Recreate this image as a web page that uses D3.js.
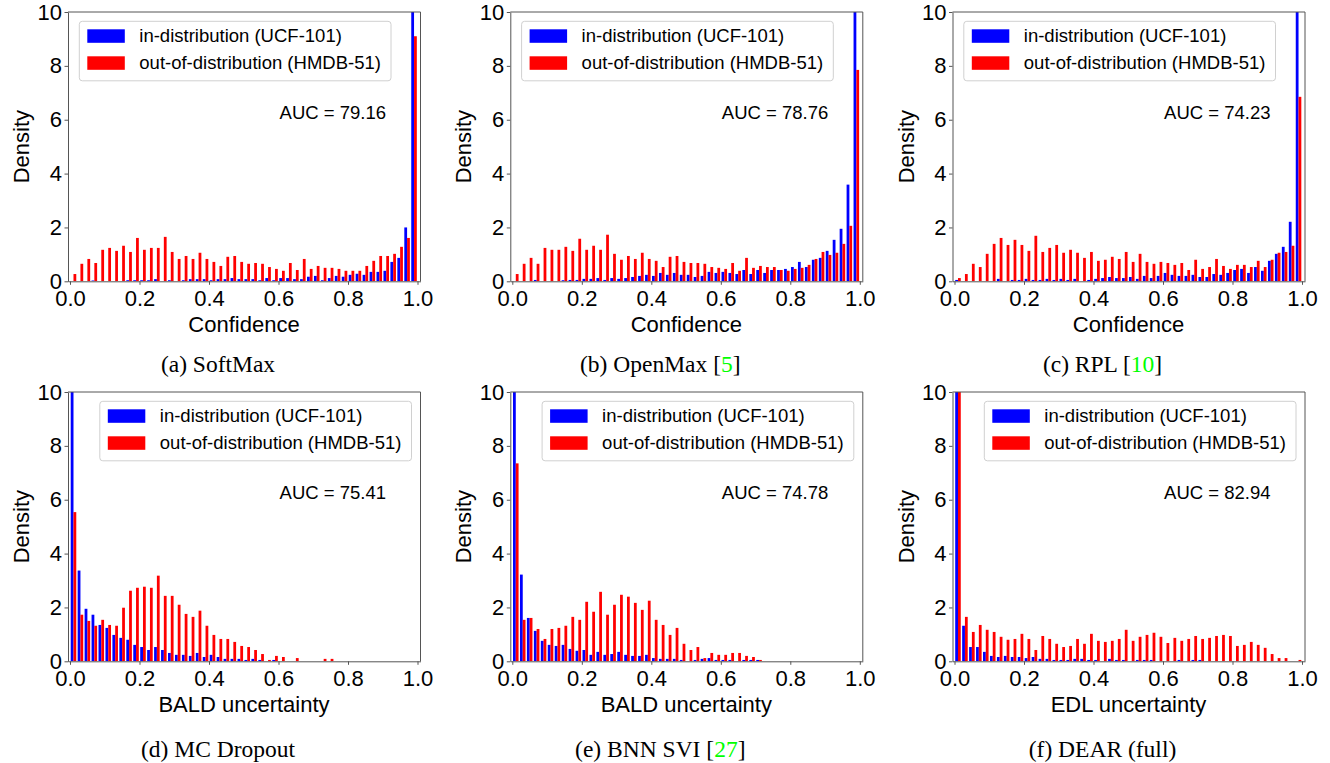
<!DOCTYPE html>
<html>
<head>
<meta charset="utf-8">
<script src="https://cdn.jsdelivr.net/npm/d3@7"></script>
<style>
  body { margin: 0; background: #fff; }
  svg { display: block; }
</style>
</head>
<body>
<div id="container"></div>
<script>
/* DATA: densities per bin (50 bins of width 0.02 over [0,1]) */
const nBins = 50, binWidth = 0.02;
const yTicks = [0, 2, 4, 6, 8, 10];
const xTicks = [0, 0.2, 0.4, 0.6, 0.8, 1.0];
const legendLabels = ["in-distribution (UCF-101)", "out-of-distribution (HMDB-51)"];

const softmaxIn = [0,0,0,0.03,0,0,0,0,0.04,0.04, 0.04,0.04,0.08,0,0.04,0,0.04,0.08,0.08,0.08,
  0.04,0.08,0.08,0.12,0.08,0.08,0.08,0.04,0.12,0.04, 0.12,0.12,0.08,0.08,0.17,0.2,0.04,0.12,0.2,0.17,
  0.24,0.28,0.24,0.35,0.35,0.39,0.72,0.87,2.0,41];
const softmaxOut = [0.27,0.65,0.83,0.68,1.17,1.24,1.13,1.32,1.09,1.61, 1.17,1.24,1.24,1.65,1.09,0.83,0.94,0.83,1.06,0.83,
  0.72,0.57,0.91,0.94,0.72,0.65,0.68,0.65,0.53,0.46, 0.39,0.68,0.42,0.83,0.46,0.57,0.50,0.50,0.46,0.39,
  0.39,0.39,0.57,0.76,0.94,0.94,1.02,1.28,1.61,9.1];

const openmaxIn = [0,0,0,0.05,0,0,0,0.04,0.05,0.05, 0.09,0.09,0.12,0.05,0.12,0.09,0.12,0.16,0.2,0.24,
  0.2,0.31,0.24,0.31,0.24,0.24,0.16,0.2,0.35,0.31, 0.35,0.31,0.27,0.42,0.27,0.42,0.31,0.42,0.42,0.46,
  0.53,0.72,0.53,0.80,0.87,1.13,1.54,1.95,3.59,30];
const openmaxOut = [0.27,0.65,0.87,0.65,1.24,1.17,1.17,1.28,1.13,1.58, 1.17,1.32,1.17,1.73,1.02,0.80,0.94,0.83,1.06,0.83,
  0.76,0.53,0.91,0.94,0.72,0.68,0.68,0.65,0.53,0.50, 0.46,0.68,0.39,0.87,0.50,0.57,0.53,0.53,0.42,0.39,
  0.46,0.50,0.61,0.83,1.09,0.98,1.06,1.39,2.06,7.85];

const rplIn = [0.05,0,0,0,0,0,0.09,0,0.05,0.05, 0.09,0.05,0.05,0.09,0.05,0.09,0.05,0.09,0,0.05,
  0.09,0.12,0.16,0.12,0.12,0.16,0.09,0.2,0.12,0.2, 0.31,0.24,0.2,0.2,0.24,0.16,0.16,0.27,0.24,0.31,
  0.42,0.46,0.31,0.53,0.39,0.76,1.02,1.28,2.21,38];
const rplOut = [0.12,0.27,0.65,0.53,1.02,1.39,1.61,1.35,1.54,1.35, 1.13,1.69,1.09,1.24,1.35,1.06,1.17,1.06,0.87,1.09,
  0.76,0.80,0.91,0.83,1.09,0.72,1.02,0.72,0.65,0.72, 0.68,0.61,0.68,0.42,0.80,0.46,0.53,0.83,0.57,0.46,
  0.61,0.61,0.53,0.76,0.53,0.80,1.06,1.09,1.32,6.85];

const mcIn = [32,3.37,1.95,1.73,1.35,1.24,0.98,0.87,0.80,0.61, 0.53,0.42,0.53,0.42,0.31,0.24,0.24,0.2,0.31,0.16,
  0.24,0.16,0.09,0.09,0.09,0.05,0.09,0.05,0,0.05, 0,0,0,0,0,0,0,0,0,0, 0,0,0,0,0,0,0,0,0,0];
const mcOut = [5.54,1.73,1.50,1.32,1.54,1.35,1.32,1.99,2.62,2.73, 2.77,2.73,3.18,2.43,2.43,2.10,1.76,1.65,1.88,1.32,
  0.98,0.83,0.83,0.72,0.57,0.53,0.42,0.27,0.05,0.2, 0.16,0,0.12,0,0,0,0.09,0.09,0,0, 0,0,0,0,0,0,0,0,0,0];

const bnnIn = [37,3.22,1.61,1.13,0.76,0.61,0.57,0.61,0.46,0.39, 0.42,0.24,0.35,0.24,0.27,0.35,0.24,0.2,0.2,0.24,
  0.12,0.09,0.09,0.09,0.05,0,0.05,0.09,0.12,0.05, 0.05,0.05,0,0.05,0.05,0.05,0,0,0,0, 0,0,0,0,0,0,0,0,0,0];
const bnnOut = [7.35,1.54,1.61,1.20,0.83,1.20,1.24,1.32,1.65,1.54, 2.21,1.84,2.58,1.73,2.10,2.47,2.40,2.17,1.91,2.25,
  1.54,1.35,0.98,1.24,0.65,0.42,0.53,0.12,0.31,0.24, 0.24,0.31,0.31,0.2,0.16,0.05,0,0,0,0, 0,0,0,0,0,0,0,0,0,0];

const dearIn = [45,1.32,0.53,0.53,0.35,0.2,0.16,0.2,0.16,0.16, 0.12,0.16,0.09,0.09,0.05,0.05,0.05,0.09,0.09,0.05,
  0.05,0,0.09,0.05,0.05,0,0.05,0.05,0.05,0, 0,0,0.05,0,0.05,0.05,0,0,0,0, 0,0,0,0,0,0,0,0,0,0];
const dearOut = [12,1.65,1.09,1.35,1.17,1.09,0.91,0.80,0.83,1.02, 0.83,0.42,0.94,0.83,0.65,0.53,0.57,0.83,0.65,1.02,
  0.76,0.72,0.76,0.83,1.17,0.76,0.91,0.98,1.06,0.91, 0.68,0.87,0.76,0.83,0.94,0.83,0.87,0.94,0.98,0.94,
  0.57,0.61,0.72,0.61,0.50,0.27,0.12,0.12,0,0.05];

const panels = [
  {cap: "(a) SoftMax", ref: null, xlabel: "Confidence", auc: "AUC = 79.16", inD: softmaxIn, outD: softmaxOut, legend: "left"},
  {cap: "(b) OpenMax ", ref: "5", xlabel: "Confidence", auc: "AUC = 78.76", inD: openmaxIn, outD: openmaxOut, legend: "left"},
  {cap: "(c) RPL ", ref: "10", xlabel: "Confidence", auc: "AUC = 74.23", inD: rplIn, outD: rplOut, legend: "left"},
  {cap: "(d) MC Dropout", ref: null, xlabel: "BALD uncertainty", auc: "AUC = 75.41", inD: mcIn, outD: mcOut, legend: "right"},
  {cap: "(e) BNN SVI ", ref: "27", xlabel: "BALD uncertainty", auc: "AUC = 74.78", inD: bnnIn, outD: bnnOut, legend: "right"},
  {cap: "(f) DEAR (full)", ref: null, xlabel: "EDL uncertainty", auc: "AUC = 82.94", inD: dearIn, outD: dearOut, legend: "right"}
];

/* LAYOUT */
const width = 1330, height = 763;
const colX = [70, 512.3, 954.5];     // pixel of x = 0 in each column
const rowTop = [12, 392];
const plotH = 269.3;
const capY = [371.7, 756.7];
const sans = "'Liberation Sans', Arial, sans-serif";
const serif = "'Liberation Serif', 'Times New Roman', serif";
const spine = "#555";

const svg = d3.select("#container").append("svg")
  .attr("width", width)
  .attr("height", height);

svg.append("rect").attr("width", width).attr("height", height).attr("fill", "#fff");

panels.forEach((p, i) => {
  const zx = colX[i % 3];
  const top = rowTop[Math.floor(i / 3)];
  const bottom = top + plotH;
  const left = zx - 2, right = zx + 350.5;

  const x = d3.scaleLinear().domain([-0.0058, 1.0086]).range([left, right]);
  const y = d3.scaleLinear().domain([0, 10]).range([bottom, top]);

  const g = svg.append("g");

  g.append("clipPath").attr("id", "clip" + i)
    .append("rect").attr("x", left).attr("y", top).attr("width", right - left).attr("height", plotH);

  const bars = g.append("g").attr("clip-path", `url(#clip${i})`);

  // blue: left half of each bin, red: right half (rwidth 0.8)
  bars.selectAll(".in").data(p.inD).join("rect")
    .attr("x", (d, k) => x(k * binWidth + 0.1 * binWidth))
    .attr("width", (d, k) => x(0.4 * binWidth) - x(0))
    .attr("y", d => y(d))
    .attr("height", d => y(0) - y(d))
    .attr("fill", "#0000ff");

  bars.selectAll(".out").data(p.outD).join("rect")
    .attr("x", (d, k) => x(k * binWidth + 0.5 * binWidth))
    .attr("width", (d, k) => x(0.4 * binWidth) - x(0))
    .attr("y", d => y(d))
    .attr("height", d => y(0) - y(d))
    .attr("fill", "#ff0000");

  // axes
  const xAxis = g.append("g")
    .attr("transform", `translate(0,${bottom})`)
    .call(d3.axisBottom(x).tickValues(xTicks).tickFormat(d3.format(".1f")).tickSize(3.5).tickSizeOuter(0).tickPadding(6));
  const yAxis = g.append("g")
    .attr("transform", `translate(${left},0)`)
    .call(d3.axisLeft(y).tickValues(yTicks).tickSize(3.5).tickSizeOuter(0).tickPadding(2.5));

  [xAxis, yAxis].forEach(a => {
    a.selectAll("path").attr("stroke", spine);
    a.selectAll("line").attr("stroke", spine);
    a.selectAll("text").attr("fill", "#000").style("font-family", sans).style("font-size", "22px");
  });

  // top + right spines
  g.append("line").attr("x1", left).attr("x2", right).attr("y1", top).attr("y2", top).attr("stroke", spine);
  g.append("line").attr("x1", right).attr("x2", right).attr("y1", top).attr("y2", bottom).attr("stroke", spine);

  // legend
  const lw = 311.7, lh = 59.5;
  const lx = p.legend === "left" ? zx + 9.3 : zx + 29.8;
  const ly = top + 9.3;
  const leg = g.append("g").attr("transform", `translate(${lx},${ly})`);
  leg.append("rect").attr("width", lw).attr("height", lh).attr("rx", 3)
    .attr("fill", "#fff").attr("fill-opacity", 0.8).attr("stroke", "#d0d0d0");
  legendLabels.forEach((t, k) => {
    leg.append("rect").attr("x", 8).attr("y", 8 + k * 27).attr("width", 37.5).attr("height", 13.5)
      .attr("fill", k === 0 ? "#0000ff" : "#ff0000");
    leg.append("text").attr("x", 60).attr("y", 21 + k * 27)
      .style("font-family", sans).style("font-size", "18.5px").text(t);
  });

  // AUC
  g.append("text").attr("x", zx + 316).attr("y", top + 107).attr("text-anchor", "end")
    .style("font-family", sans).style("font-size", "18.5px").text(p.auc);

  // labels
  g.append("text").attr("x", zx + 174).attr("y", top + 319.7).attr("text-anchor", "middle")
    .style("font-family", sans).style("font-size", "22px").text(p.xlabel);
  g.append("text")
    .attr("transform", `translate(${zx - 41},${top + plotH / 2}) rotate(-90)`)
    .attr("text-anchor", "middle")
    .style("font-family", sans).style("font-size", "22px").text("Density");

  // caption
  const cap = g.append("text").attr("x", zx + 148).attr("y", capY[Math.floor(i / 3)])
    .attr("text-anchor", "middle")
    .style("font-family", serif).style("font-size", "23.5px").attr("fill", "#000");
  cap.append("tspan").text(p.cap);
  if (p.ref) {
    cap.append("tspan").text("[");
    cap.append("tspan").attr("fill", "#00ff00").text(p.ref);
    cap.append("tspan").text("]");
  }
});
</script>
</body>
</html>
